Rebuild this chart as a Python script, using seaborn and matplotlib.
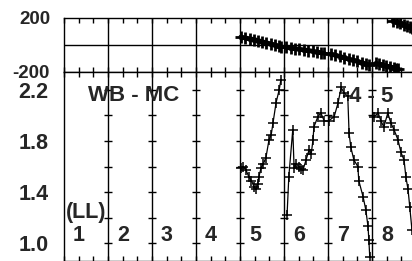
import numpy as np
import pandas as pd
import matplotlib
matplotlib.use("Agg")
import matplotlib.pyplot as plt
import seaborn as sns

# Painel superior: fase (graus), segmentos 5 a 8
fase_x5 = [4.02, 4.12, 4.22, 4.32, 4.42, 4.50, 4.60, 4.70, 4.80, 4.88, 4.93]
fase_y5 = [59, 52, 46, 40, 32, 24, 16, 8, 0, -9, -15]
fase_x6 = [5.05, 5.15, 5.25, 5.35, 5.45, 5.55, 5.65, 5.75, 5.85, 5.91]
fase_y6 = [-17, -22, -28, -32, -36, -41, -46, -52, -58, -61]
fase_x7 = [6.07, 6.17, 6.27, 6.37, 6.47, 6.57, 6.67, 6.77, 6.87, 6.93]
fase_y7 = [-67, -76, -85, -95, -104, -112, -122, -131, -141, -148]
fase_x8a = [7.09, 7.17, 7.25, 7.33, 7.41, 7.49, 7.55, 7.59]
fase_y8a = [-136, -142, -149, -156, -162, -168, -175, -180]
fase_x8b = [7.48, 7.56, 7.64, 7.72, 7.80, 7.86, 7.91]
fase_y8b = [180, 170, 160, 150, 140, 131, 124]

# Painel inferior: razao WB - MC, segmentos 5 a 8
seg5_x = [4.02, 4.08, 4.14, 4.20, 4.26, 4.32, 4.36, 4.40, 4.43, 4.48, 4.53, 4.59, 4.66, 4.71, 4.75, 4.82, 4.89, 4.93]
seg5_y = [1.59, 1.60, 1.57, 1.52, 1.49, 1.44, 1.42, 1.46, 1.52, 1.59, 1.62, 1.67, 1.81, 1.85, 1.94, 2.10, 2.20, 2.28]
seg6_x = [5.07, 5.11, 5.20, 5.23, 5.28, 5.34, 5.38, 5.43, 5.50, 5.57, 5.62, 5.66, 5.68, 5.77, 5.84, 5.91]
seg6_y = [1.22, 1.52, 1.89, 1.59, 1.62, 1.60, 1.58, 1.57, 1.65, 1.73, 1.70, 1.81, 1.91, 1.99, 2.02, 1.96]
seg7_x = [6.02, 6.14, 6.23, 6.30, 6.36, 6.45, 6.48, 6.52, 6.59, 6.68, 6.70, 6.80, 6.86, 6.91, 6.93, 6.95]
seg7_y = [1.96, 1.99, 2.10, 2.22, 2.18, 2.15, 1.86, 1.75, 1.65, 1.60, 1.49, 1.36, 1.26, 1.13, 1.02, 0.89]
seg8_x = [7.05, 7.14, 7.20, 7.27, 7.36, 7.43, 7.50, 7.59, 7.66, 7.73, 7.77, 7.82, 7.86, 7.91]
seg8_y = [1.99, 2.02, 1.96, 1.91, 2.02, 1.94, 1.89, 1.81, 1.71, 1.65, 1.52, 1.42, 1.28, 1.10]

segmentos = ["1", "2", "3", "4", "5", "6", "7", "8"]
divisores = [1, 2, 3, 4, 5, 6, 7]
yticks_inf = [1.0, 1.4, 1.8, 2.2]
yticks_inf_menor = [1.0, 1.2, 1.4, 1.6, 1.8, 2.0, 2.2]

sns.set_theme(style="white")
plt.rcParams["font.family"] = ["Liberation Sans", "DejaVu Sans"]
plt.rcParams["font.weight"] = "bold"

fig = plt.figure(figsize=(4.12, 2.61), dpi=100)
ax_sup = fig.add_axes([64 / 412, 1 - 72 / 261, 348 / 412, 54 / 261])
ax_inf = fig.add_axes([64 / 412, 0, 348 / 412, 1 - 72 / 261])

xmin, xmax = 0, 7.91
xminor = np.arange(0, 8, 1 / 3)

# --- painel superior
for xs, ys in [(fase_x5, fase_y5), (fase_x6, fase_y6), (fase_x7, fase_y7),
               (fase_x8a, fase_y8a), (fase_x8b, fase_y8b)]:
    df = pd.DataFrame({"x": xs, "y": ys})
    sns.lineplot(data=df, x="x", y="y", sort=False, estimator=None, ax=ax_sup,
                 color="black", lw=3.5, marker="+", markersize=8,
                 markeredgewidth=2, markeredgecolor="black")
ax_sup.axhline(0, color="black", lw=1)
for d in divisores:
    ax_sup.axvline(d, color="black", lw=1)
ax_sup.set_xlim(xmin, xmax)
ax_sup.set_ylim(-200, 200)
ax_sup.set_yticks([-200, 200])
ax_sup.set_yticklabels(["-200", "200"], fontsize=13.5, fontweight="bold")
ax_sup.tick_params(axis="y", length=0, pad=10)
ax_sup.set_xticks(xminor)
ax_sup.tick_params(axis="x", direction="in", length=3.5, width=1, top=True,
                   bottom=True, labelbottom=False, color="black")
ax_sup.set_xlabel("")
ax_sup.set_ylabel("")
ax_sup.spines["right"].set_visible(False)
for s in ["top", "bottom", "left"]:
    ax_sup.spines[s].set_color("black")
    ax_sup.spines[s].set_linewidth(1)

# --- painel inferior
for xs, ys in [(seg5_x, seg5_y), (seg6_x, seg6_y), (seg7_x, seg7_y), (seg8_x, seg8_y)]:
    df = pd.DataFrame({"x": xs, "y": ys})
    sns.lineplot(data=df, x="x", y="y", sort=False, estimator=None, ax=ax_inf,
                 color="black", lw=0.9, marker="+", markersize=7.5,
                 markeredgewidth=1.1, markeredgecolor="black")
for d in divisores:
    ax_inf.axvline(d, color="black", lw=1)
    ax_inf.plot([d] * len(yticks_inf_menor), yticks_inf_menor, ls="none",
                marker="_", markersize=6, markeredgewidth=1, color="black")
ax_inf.set_xlim(xmin, xmax)
ax_inf.set_ylim(0.859, 2.341)
ax_inf.set_yticks(yticks_inf_menor)
ax_inf.set_yticklabels(["%.1f" % v if v in yticks_inf else "" for v in yticks_inf_menor],
                       fontsize=15.5, fontweight="bold")
ax_inf.tick_params(axis="y", direction="in", length=4, width=1, pad=11, color="black")
ax_inf.set_xticks(xminor)
ax_inf.tick_params(axis="x", direction="in", length=3.5, width=1, top=True,
                   bottom=True, labelbottom=False, color="black")
ax_inf.set_xlabel("")
ax_inf.set_ylabel("")
ax_inf.spines["right"].set_visible(False)
for s in ["top", "bottom", "left"]:
    ax_inf.spines[s].set_color("black")
    ax_inf.spines[s].set_linewidth(1)

for i, rot in enumerate(segmentos):
    ax_inf.text(i + 0.34, 1.06, rot, ha="center", va="center", fontsize=15.5,
                fontweight="bold")
ax_inf.text(0.55, 2.16, "WB - MC", ha="left", va="center", fontsize=16, fontweight="bold")
ax_inf.text(0.05, 1.24, "(LL)", ha="left", va="center", fontsize=15.5, fontweight="bold")
ax_inf.text(6.48, 2.15, "4 - 5", ha="left", va="center", fontsize=16, fontweight="bold")

fig.savefig("out.png", dpi=100)
